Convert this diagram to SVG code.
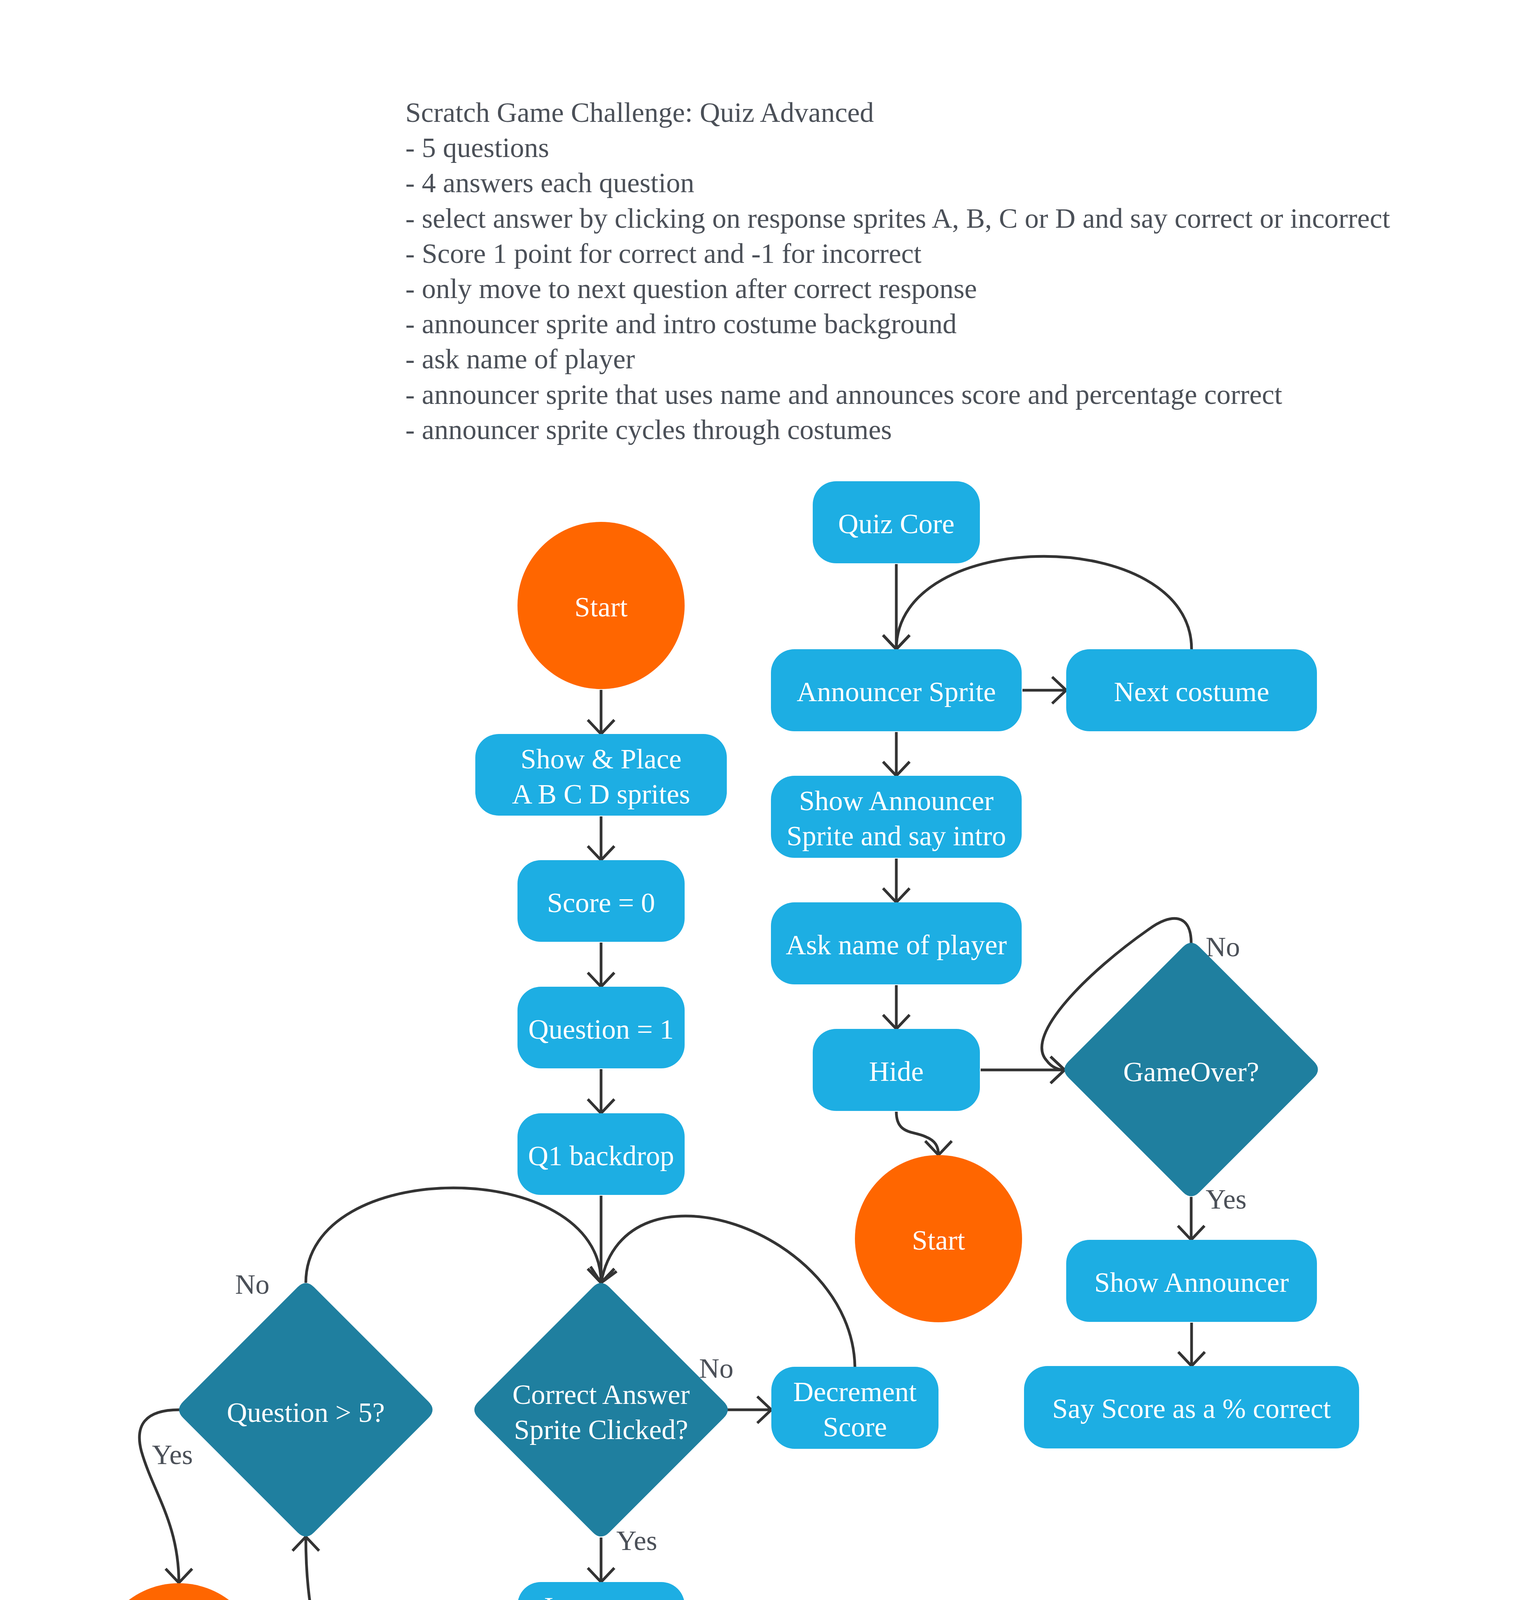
<svg xmlns="http://www.w3.org/2000/svg" width="3915" height="4779" viewBox="0 0 3915 4779">
<style>
.t{font-family:"Liberation Serif","Times New Roman",serif;font-size:72px;fill:#4b5058}
.nt{font-family:"Liberation Serif","Times New Roman",serif;font-size:72px;fill:#ffffff;text-anchor:middle}
.lb{font-family:"Liberation Serif","Times New Roman",serif;font-size:72px;fill:#4b5058}
.box{fill:#1daee3}
.dia{fill:#1f7f9f}
.circ{fill:#ff6600}
.cn{fill:none;stroke:#333333;stroke-width:7;marker-end:url(#arr)}
</style>
<defs>
<marker id="arr" viewBox="-50 -50 60 100" markerWidth="60" markerHeight="100" refX="0" refY="0" orient="auto" markerUnits="userSpaceOnUse">
<path d="M-36,-34 L0,0 L-36,34" fill="none" stroke="#333333" stroke-width="7"/>
</marker>
<path id="diamond" d="M-21,-314 Q0,-335 21,-314 L314,-21 Q335,0 314,21 L21,314 Q0,335 -21,314 L-314,21 Q-335,0 -314,-21 Z"/>
</defs>
<rect width="3915" height="4779" fill="#ffffff"/>
<g id="title">
<text class="t" x="1038" y="312">Scratch Game Challenge: Quiz Advanced</text>
<text class="t" x="1038" y="402">- 5 questions</text>
<text class="t" x="1038" y="492">- 4 answers each question</text>
<text class="t" x="1038" y="583">- select answer by clicking on response sprites A, B, C or D and say correct or incorrect</text>
<text class="t" x="1038" y="673">- Score 1 point for correct and -1 for incorrect</text>
<text class="t" x="1038" y="763">- only move to next question after correct response</text>
<text class="t" x="1038" y="853">- announcer sprite and intro costume background</text>
<text class="t" x="1038" y="943">- ask name of player</text>
<text class="t" x="1038" y="1034">- announcer sprite that uses name and announces score and percentage correct</text>
<text class="t" x="1038" y="1124">- announcer sprite cycles through costumes</text>
</g>
<g id="connectors">
<path class="cn" d="M1539,1766 L1539,1879"/>
<path class="cn" d="M1539,2090 L1539,2202"/>
<path class="cn" d="M1539,2413 L1539,2526"/>
<path class="cn" d="M1539,2737 L1539,2850"/>
<path class="cn" d="M1539,3061 L1539,3284"/>
<path class="cn" d="M1539,3936 L1539,4050"/>
<path class="cn" d="M1539,4262 L1539,4378"/>
<path class="cn" d="M1218,4484 C880,4484 783,4260 783,3934"/>
<path class="cn" d="M783,3284 C783,2960 1539,2960 1539,3284"/>
<path class="cn" d="M459,3609 C370,3609 345,3650 362,3715 C392,3820 458,3900 458,4052"/>
<path class="cn" d="M1863,3609 L1975,3609"/>
<path class="cn" d="M2189,3499 C2182,3150 1600,2950 1539,3284"/>
<path class="cn" d="M2295,1444 L2295,1662"/>
<path class="cn" d="M3051,1662 C3051,1345 2295,1345 2295,1662"/>
<path class="cn" d="M2618,1767 L2730,1767"/>
<path class="cn" d="M2295,1874 L2295,1986"/>
<path class="cn" d="M2295,2198 L2295,2310"/>
<path class="cn" d="M2295,2522 L2295,2634"/>
<path class="cn" d="M2511,2739 L2726,2739"/>
<path class="cn" d="M2295,2846 C2295,2905 2340,2895 2370,2910 C2395,2920 2403,2935 2403,2957"/>
<path class="cn" d="M3050,2414 C3050,2340 3000,2335 2940,2380 C2790,2485 2620,2650 2680,2715 C2692,2732 2710,2739 2726,2739"/>
<path class="cn" d="M3050,3064 L3050,3174"/>
<path class="cn" d="M3051,3386 L3051,3497"/>
</g>
<g id="labels">
<text class="lb" x="602" y="3312">No</text>
<text class="lb" x="389" y="3748">Yes</text>
<text class="lb" x="1790" y="3527">No</text>
<text class="lb" x="1578" y="3968">Yes</text>
<text class="lb" x="3087" y="2448">No</text>
<text class="lb" x="3087" y="3094">Yes</text>
</g>
<g id="start1"><circle class="circ" cx="1539" cy="1550" r="214"/><text class="nt" x="1539" y="1578">Start</text></g>
<g id="showPlace"><rect class="box" x="1217" y="1879" width="644" height="209" rx="60"/><text class="nt" x="1539" y="1967">Show &amp; Place</text><text class="nt" x="1539" y="2057">A B C D sprites</text></g>
<g id="score0"><rect class="box" x="1325" y="2202" width="428" height="209" rx="60"/><text class="nt" x="1539" y="2335">Score = 0</text></g>
<g id="question1"><rect class="box" x="1325" y="2526" width="428" height="209" rx="60"/><text class="nt" x="1539" y="2659">Question = 1</text></g>
<g id="q1backdrop"><rect class="box" x="1325" y="2850" width="428" height="209" rx="60"/><text class="nt" x="1539" y="2983">Q1 backdrop</text></g>
<g id="questionGt5"><use href="#diamond" class="dia" x="783" y="3609"/><text class="nt" x="783" y="3640">Question &gt; 5?</text></g>
<g id="correctAnswer"><use href="#diamond" class="dia" x="1539" y="3609"/><text class="nt" x="1539" y="3594">Correct Answer</text><text class="nt" x="1539" y="3684">Sprite Clicked?</text></g>
<g id="decrement"><rect class="box" x="1975" y="3499" width="428" height="210" rx="60"/><text class="nt" x="2189" y="3587">Decrement</text><text class="nt" x="2189" y="3677">Score</text></g>
<g id="increment"><rect class="box" x="1325" y="4050" width="428" height="210" rx="60"/><text class="nt" x="1539" y="4138">Increment</text><text class="nt" x="1539" y="4228">Score</text></g>
<g id="nextBackdrop"><rect class="box" x="1218" y="4378" width="643" height="211" rx="60"/><text class="nt" x="1539" y="4466">Next Backdrop</text><text class="nt" x="1539" y="4556">Question</text></g>
<g id="gameOver"><circle class="circ" cx="458" cy="4266" r="213"/><text class="nt" x="458" y="4294">GameOver</text></g>
<g id="quizCore"><rect class="box" x="2081" y="1232" width="428" height="210" rx="60"/><text class="nt" x="2295" y="1365">Quiz Core</text></g>
<g id="announcer"><rect class="box" x="1974" y="1662" width="642" height="210" rx="60"/><text class="nt" x="2295" y="1795">Announcer Sprite</text></g>
<g id="nextCostume"><rect class="box" x="2730" y="1662" width="642" height="210" rx="60"/><text class="nt" x="3051" y="1795">Next costume</text></g>
<g id="showAnnouncerSprite"><rect class="box" x="1974" y="1986" width="642" height="210" rx="60"/><text class="nt" x="2295" y="2074">Show Announcer</text><text class="nt" x="2295" y="2164">Sprite and say intro</text></g>
<g id="askName"><rect class="box" x="1974" y="2310" width="642" height="210" rx="60"/><text class="nt" x="2295" y="2443">Ask name of player</text></g>
<g id="hide"><rect class="box" x="2081" y="2634" width="428" height="210" rx="60"/><text class="nt" x="2295" y="2767">Hide</text></g>
<g id="start2"><circle class="circ" cx="2403" cy="3171" r="214"/><text class="nt" x="2403" y="3199">Start</text></g>
<g id="gameOverQ"><use href="#diamond" class="dia" x="3050" y="2738"/><text class="nt" x="3050" y="2768">GameOver?</text></g>
<g id="showAnnouncer"><rect class="box" x="2730" y="3174" width="642" height="210" rx="60"/><text class="nt" x="3051" y="3307">Show Announcer</text></g>
<g id="sayScore"><rect class="box" x="2622" y="3497" width="858" height="211" rx="60"/><text class="nt" x="3051" y="3630">Say Score as a % correct</text></g>
</svg>
